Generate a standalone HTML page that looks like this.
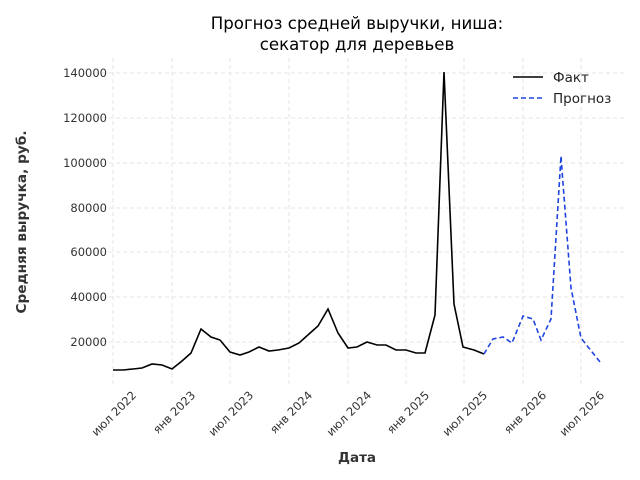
<!DOCTYPE html>
<html><head><meta charset="utf-8"><style>body{margin:0;background:#fff}svg{display:block}text{font-family:"DejaVu Sans","Liberation Sans",sans-serif}</style></head><body>
<svg width="640" height="480" viewBox="0 0 640 480">
<g stroke="#e6e6e6" stroke-width="1" stroke-dasharray="4,3">
<line x1="95" x2="625" y1="73" y2="73"/><line x1="95" x2="625" y1="118" y2="118"/><line x1="95" x2="625" y1="163" y2="163"/><line x1="95" x2="625" y1="208" y2="208"/><line x1="95" x2="625" y1="252" y2="252"/><line x1="95" x2="625" y1="297" y2="297"/><line x1="95" x2="625" y1="342" y2="342"/>
<line y1="58" y2="385" x1="113" x2="113"/><line y1="58" y2="385" x1="172" x2="172"/><line y1="58" y2="385" x1="230" x2="230"/><line y1="58" y2="385" x1="289" x2="289"/><line y1="58" y2="385" x1="348" x2="348"/><line y1="58" y2="385" x1="406" x2="406"/><line y1="58" y2="385" x1="464" x2="464"/><line y1="58" y2="385" x1="523" x2="523"/><line y1="58" y2="385" x1="581" x2="581"/>
</g>
<g font-size="11.5" fill="#333" text-anchor="end">
<text x="107" y="77">140000</text><text x="107" y="122">120000</text><text x="107" y="167">100000</text><text x="107" y="212">80000</text><text x="107" y="256">60000</text><text x="107" y="301">40000</text><text x="107" y="346">20000</text>
</g>
<g font-size="11.5" fill="#333" text-anchor="end">
<text transform="translate(137,396) rotate(-45)">июл 2022</text>
<text transform="translate(196,396) rotate(-45)">янв 2023</text>
<text transform="translate(254,396) rotate(-45)">июл 2023</text>
<text transform="translate(313,396) rotate(-45)">янв 2024</text>
<text transform="translate(372,396) rotate(-45)">июл 2024</text>
<text transform="translate(430,396) rotate(-45)">янв 2025</text>
<text transform="translate(488,396) rotate(-45)">июл 2025</text>
<text transform="translate(547,396) rotate(-45)">янв 2026</text>
<text transform="translate(605,396) rotate(-45)">июл 2026</text>
</g>
<polyline fill="none" stroke="#000" stroke-width="1.6" points="113,370 123,370 133,369 142,368 152,364 162,365 172,369 182,361 191,353 201,329 211,337 220,340 230,352 240,355 249,352 259,347 269,351 278,350 289,348 299,343 309,334 318,326 328,309 338,333 348,348 357,347 367,342 377,345 386,345 396,350 406,350 416,353 425,353 435,315 444,72 454,304 463,347 474,350 484,354"/>
<polyline fill="none" stroke="#1f45e0" stroke-width="1.6" stroke-dasharray="5,3" points="484,354 493,339 503,337 512,343 523,316 533,319 541,340 551,319 561,156 562,170 571,288 581,338 600,362"/>
<line x1="513" x2="543" y1="77" y2="77" stroke="#000" stroke-width="1.6"/>
<line x1="513" x2="543" y1="98" y2="98" stroke="#1f45e0" stroke-width="1.6" stroke-dasharray="5,3"/>
<text x="553" y="82" font-size="13.5" fill="#222">Факт</text>
<text x="553" y="103" font-size="13.5" fill="#222">Прогноз</text>
<text x="357" y="29" font-size="16.6" text-anchor="middle" fill="#000">Прогноз средней выручки, ниша:</text>
<text x="357" y="50" font-size="16.6" text-anchor="middle" fill="#000">секатор для деревьев</text>
<text x="357" y="462" font-size="13.5" font-weight="bold" text-anchor="middle" fill="#333">Дата</text>
<text transform="translate(26,222) rotate(-90)" font-size="13.7" font-weight="bold" text-anchor="middle" fill="#333">Средняя выручка, руб.</text>
</svg>
</body></html>
